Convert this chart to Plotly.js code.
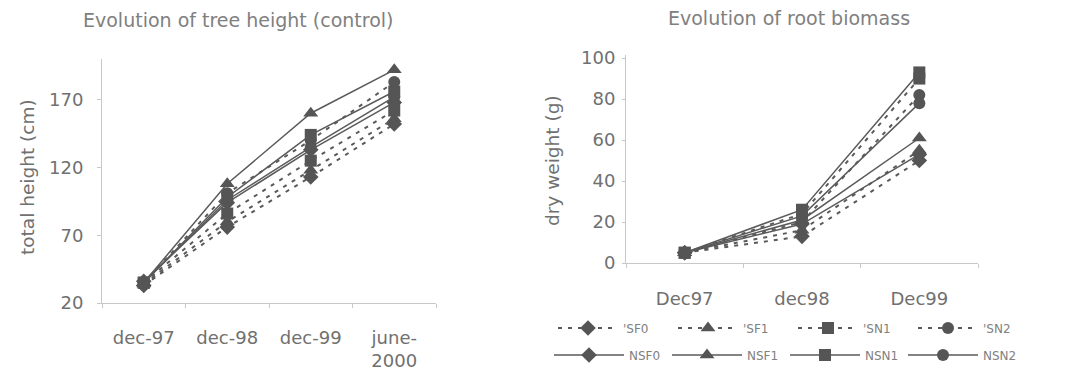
<!DOCTYPE html>
<html>
<head>
<meta charset="utf-8">
<script src="https://cdn.plot.ly/plotly-3.0.1.min.js"></script>
<style>
  html, body { margin: 0; padding: 0; background: #fff; overflow: hidden; }
  #chart { width: 1088px; height: 373px; }
</style>
</head>
<body>
<div id="chart"></div>
<script>
// ---- Data ----
var heightDates = ['dec-97', 'dec-98', 'dec-99', 'june-<br>2000'];
var biomassDates = ['Dec97', 'dec98', 'Dec99'];

var seriesNames = ["'SF0", "'SF1", "'SN1", "'SN2", 'NSF0', 'NSF1', 'NSN1', 'NSN2'];
var seriesSymbols = ['diamond', 'triangle-up', 'square', 'circle', 'diamond', 'triangle-up', 'square', 'circle'];
var seriesDash = ['dash', 'dash', 'dash', 'dash', 'solid', 'solid', 'solid', 'solid'];

// total height (cm), control
var heightSF0 = [33, 76, 113, 152];
var heightSF1 = [34, 80, 118, 156];
var heightSN1 = [35, 86, 125, 162];
var heightSN2 = [35, 101, 140, 183];
var heightNSF0 = [36, 94, 133, 168];
var heightNSF1 = [35, 108, 160, 192];
var heightNSN1 = [35, 98, 144, 176];
var heightNSN2 = [35, 96, 135, 172];

// root dry weight (g)
var rootSF0 = [5, 13, 50];
var rootSF1 = [5, 16, 55];
var rootSN1 = [5, 24, 90];
var rootSN2 = [5, 20, 82];
var rootNSF0 = [5, 19, 53];
var rootNSF1 = [5, 21, 61];
var rootNSN1 = [5, 26, 93];
var rootNSN2 = [5, 23, 78];

var heightData = [heightSF0, heightSF1, heightSN1, heightSN2, heightNSF0, heightNSF1, heightNSN1, heightNSN2];
var rootData = [rootSF0, rootSF1, rootSN1, rootSN2, rootNSF0, rootNSF1, rootNSN1, rootNSN2];

// ---- Styling ----
var W = 1088, H = 373;
var lineCol = '#5a5a5a';
var markCol = '#555555';
var textCol = '#707070';
var axCol = '#c8c8c8';
var fontFam = 'DejaVu Sans, Liberation Sans, Arial, sans-serif';

function px(x) { return x / W; }
function py(y) { return (H - y) / H; }
function msz(sym) { return sym === 'triangle-up' ? 13 : 12; }

var traces = [];
for (var i = 0; i < seriesNames.length; i++) {
  var isDash = seriesDash[i] !== 'solid';
  traces.push({
    type: 'scatter', mode: 'lines+markers',
    x: heightDates, y: heightData[i],
    xaxis: 'x', yaxis: 'y',
    name: seriesNames[i], showlegend: false,
    line: { color: lineCol, width: isDash ? 2 : 1.5, dash: isDash ? '4px,6px' : 'solid' },
    marker: { symbol: seriesSymbols[i], size: msz(seriesSymbols[i]), color: markCol }
  });
}
for (var j = 0; j < seriesNames.length; j++) {
  var isD = seriesDash[j] !== 'solid';
  traces.push({
    type: 'scatter', mode: 'lines+markers',
    x: biomassDates, y: rootData[j],
    xaxis: 'x2', yaxis: 'y2',
    name: seriesNames[j], showlegend: true,
    legend: isD ? 'legend' : 'legend2',
    line: { color: lineCol, width: isD ? 2 : 1.5, dash: isD ? '4px,6px' : 'solid' },
    marker: { symbol: seriesSymbols[j], size: msz(seriesSymbols[j]), color: markCol }
  });
}

var tickFont = { family: fontFam, size: 18, color: textCol };
var legendCommon = {
  orientation: 'h', xanchor: 'left', yanchor: 'middle',
  entrywidthmode: 'pixels',
  itemclick: false, itemdoubleclick: false,
  bgcolor: 'rgba(0,0,0,0)', borderwidth: 0,
  font: { family: fontFam, size: 12, color: '#808080' }
};

var layout = {
  width: W, height: H,
  margin: { l: 0, r: 0, t: 0, b: 0, pad: 0 },
  paper_bgcolor: '#fff', plot_bgcolor: '#fff',
  showlegend: true,
  xaxis: {
    domain: [px(102), px(436)], anchor: 'y',
    type: 'category', range: [-0.5, 3.5],
    showline: true, linecolor: axCol, linewidth: 1,
    showgrid: false, zeroline: false,
    ticks: 'outside', ticklen: 4, tickcolor: axCol, tickson: 'boundaries',
    ticklabelstandoff: 18,
    tickfont: tickFont, automargin: false
  },
  yaxis: {
    domain: [py(303), py(59)], anchor: 'x',
    range: [20, 200], tickvals: [20, 70, 120, 170],
    showline: true, linecolor: axCol, linewidth: 1,
    showgrid: false, zeroline: false,
    ticks: 'outside', ticklen: 4, tickcolor: axCol,
    ticklabelstandoff: 10,
    tickfont: tickFont, automargin: false
  },
  xaxis2: {
    domain: [px(626), px(978)], anchor: 'y2',
    type: 'category', range: [-0.5, 2.5],
    showline: true, linecolor: axCol, linewidth: 1,
    showgrid: false, zeroline: false,
    ticks: 'outside', ticklen: 4, tickcolor: axCol, tickson: 'boundaries',
    ticklabelstandoff: 19,
    tickfont: tickFont, automargin: false
  },
  yaxis2: {
    domain: [py(263), py(55)], anchor: 'x2',
    range: [0, 101.5], tickvals: [0, 20, 40, 60, 80, 100],
    showline: true, linecolor: axCol, linewidth: 1,
    showgrid: false, zeroline: false,
    ticks: 'outside', ticklen: 3, tickcolor: axCol,
    ticklabelstandoff: 3,
    tickfont: tickFont, automargin: false
  },
  legend: Object.assign({}, legendCommon, { x: px(553), y: py(328), itemwidth: 60, entrywidth: 45 }),
  legend2: Object.assign({}, legendCommon, { x: px(549), y: py(355), itemwidth: 70, entrywidth: 33 }),
  annotations: [
    { text: 'Evolution of tree height (control)', xref: 'paper', yref: 'paper',
      x: px(238), y: py(20), xanchor: 'center', yanchor: 'middle', showarrow: false,
      font: { family: fontFam, size: 19, color: '#808080' } },
    { text: 'Evolution of root biomass', xref: 'paper', yref: 'paper',
      x: px(789), y: py(18), xanchor: 'center', yanchor: 'middle', showarrow: false,
      font: { family: fontFam, size: 19, color: '#808080' } },
    { text: 'total height (cm)', xref: 'paper', yref: 'paper', textangle: -90,
      x: px(27), y: py(177), xanchor: 'center', yanchor: 'middle', showarrow: false,
      font: { family: fontFam, size: 18.5, color: textCol } },
    { text: 'dry weight (g)', xref: 'paper', yref: 'paper', textangle: -90,
      x: px(553), y: py(161), xanchor: 'center', yanchor: 'middle', showarrow: false,
      font: { family: fontFam, size: 18.5, color: textCol } }
  ]
};

Plotly.newPlot('chart', traces, layout, { displayModeBar: false, staticPlot: true });
</script>
</body>
</html>
